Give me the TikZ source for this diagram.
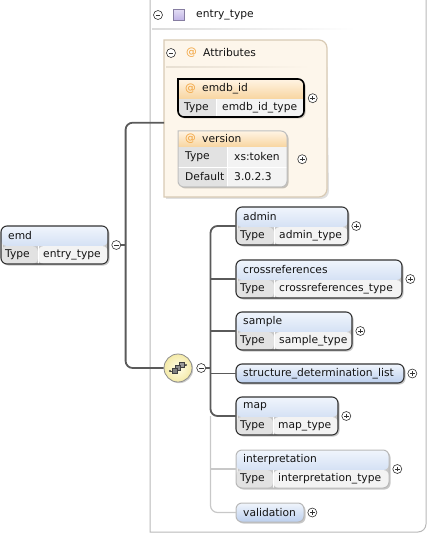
\documentclass[tikz,border=0pt]{standalone}
\usepackage{fontspec}
\setmainfont{DejaVu Sans}
\usetikzlibrary{positioning, calc, shadows}
\definecolor{LineDark}{HTML}{5A5A5A}
\definecolor{LineLight}{HTML}{C8C8C8}
\definecolor{FrameGray}{HTML}{B8B8B8}
\definecolor{HeadTop}{HTML}{F0F5FC}
\definecolor{HeadBot}{HTML}{BCCFEE}
\definecolor{AttrTop}{HTML}{FFF4E4}
\definecolor{AttrBot}{HTML}{F8D5A0}
\definecolor{CellType}{HTML}{E2E2E2}
\definecolor{CellVal}{HTML}{F3F3F3}
\definecolor{AttrFill}{HTML}{FDF6EB}
\definecolor{AttrEdge}{HTML}{D8CAB4}
\definecolor{AtOrange}{HTML}{F2A23A}
\definecolor{SeqIn}{HTML}{FFFDE8}
\definecolor{SeqOut}{HTML}{F4EAA8}
\definecolor{TypeLilac}{HTML}{BFB2E6}
\tikzset{
  % texts
  txt/.style={font=\fontsize{10.7}{12}\selectfont, inner sep=0pt, text=black!92, anchor=west},
  % element boxes
  elem base/.style={rectangle, rounded corners=6pt, inner sep=0pt, outer sep=0pt,
    drop shadow={shadow xshift=1.5pt, shadow yshift=-1.5pt, opacity=0.22, fill=black}},
  elem fill/.style={path picture={
    \shade[top color=HeadTop, bottom color=HeadBot] (path picture bounding box.north west) rectangle ($(path picture bounding box.north east)+(0,20)$);
    \fill[CellType] ($(path picture bounding box.north west)+(0,20)$) rectangle ($(path picture bounding box.south west)+(\colw,0)$);
    \fill[CellVal] ($(path picture bounding box.north west)+(\colw,20)$) rectangle (path picture bounding box.south east);
    \draw[white, line width=0.8pt] ($(path picture bounding box.north west)+(\colw,20)$) -- ($(path picture bounding box.south west)+(\colw,0)$);}},
  elem/.style={elem base, elem fill, draw=black!80, line width=1.1pt},
  elem opt/.style={elem base, elem fill, draw=black!28, line width=1pt},
  elem one/.style={elem base, draw=black!80, line width=1.1pt, top color=HeadTop, bottom color=HeadBot},
  elem one opt/.style={elem base, draw=black!28, line width=1pt, top color=HeadTop, bottom color=HeadBot},
  % connectors
  conn/.style={LineDark, line width=1.8pt, rounded corners=7pt},
  conn opt/.style={LineLight, line width=1.2pt, rounded corners=7pt},
  % expand / collapse marks
  pm/.style={circle, draw=black!80, fill=white, line width=0.6pt, minimum size=9pt, inner sep=0pt},
  pmminus/.style={pm, path picture={\draw[line width=0.7pt] ($(path picture bounding box.center)+(-2.3,0)$) -- ++(4.6,0);}},
  pmplus/.style={pm, path picture={\draw[line width=0.7pt] ($(path picture bounding box.center)+(-2.3,0)$) -- ++(4.6,0) ($(path picture bounding box.center)+(0,-2.3)$) -- ++(0,4.6);}},
  type square/.style={rectangle, draw=TypeLilac!70!black, top color=TypeLilac!45, bottom color=TypeLilac, minimum size=11pt, inner sep=0pt},
  seqc/.style={circle, minimum size=28pt, inner sep=0pt, draw=black!45, line width=0.8pt, inner color=SeqIn, outer color=SeqOut,
    drop shadow={shadow xshift=1.2pt, shadow yshift=-1.2pt, opacity=0.2, fill=black}}
}
% element box: name, x, y, width, type column, label, type
\newcommand{\elembox}[8][elem]{%
  \def\colw{#6}%
  \node[#1, minimum width=#5pt, minimum height=38pt, anchor=north west] (#2) at (#3,#4) {};
  \node[txt] (#2l) at ($(#2.north west)+(7,10)$) {#7};
  \node[txt] (#2t) at ($(#2.north west)+(4,29)$) {Type};
  \node[txt] (#2v) at ($(#2.north west)+(#6+5,29)$) {#8};
}
% element box with a single row: name, x, y, width, label
\newcommand{\elemone}[6][elem one]{%
  \node[#1, minimum width=#5pt, minimum height=19pt, anchor=north west] (#2) at (#3,#4) {};
  \node[txt] (#2l) at ($(#2.west)+(7,0)$) {#6};
}
% box with a square top left corner: x, y, width, height, radius
\newcommand{\sqbox}[6][]{%
  \path[#1] (#2,#3) -- ({#2+#4-#6},#3) arc[start angle=-90, end angle=0, radius=#6]
    -- ({#2+#4},{#3+#5-#6}) arc[start angle=0, end angle=90, radius=#6]
    -- ({#2+#6},{#3+#5}) arc[start angle=90, end angle=180, radius=#6] -- cycle;
}

\begin{document}
\begin{tikzpicture}[x=1pt, y=-1pt]
  \useasboundingbox (0,0) rectangle (429,534);

  % entry_type frame
  \draw[FrameGray, line width=1pt] (150,-2) -- (150,532) -- (418,532) arc[start angle=90, end angle=0, radius=8] -- (426,-2);
  \node[pmminus] (typem) at (158,15) {};
  \node[type square] (typesq) at (179,15) {};
  \node[txt] (typel) at (196,15) {entry\_type};
  \shade[left color=black!14, right color=white] (152,28.5) rectangle (355,30);

  % Attributes group
  \fill[black, opacity=0.12] (166,42) -- (319,42) arc[start angle=-90, end angle=0, radius=8] -- (329,191) arc[start angle=0, end angle=90, radius=8] -- (166,199) -- cycle;
  \draw[AttrEdge, fill=AttrFill, line width=1.2pt] (164,40) -- (319,40) arc[start angle=-90, end angle=0, radius=8] -- (327,189) arc[start angle=0, end angle=90, radius=8] -- (164,197) -- cycle;
  \node[inner sep=0pt, minimum width=163pt, minimum height=157pt, anchor=north west] (attrs) at (164,40) {};
  \node[pmminus] (attrm) at (171,53) {};
  \node[txt, text=AtOrange] (attrat) at (186,53) {@};
  \node[txt] (attrl) at (203,53) {Attributes};
  \shade[left color=AttrEdge!60, right color=AttrFill] (166,66.5) rectangle (310,68);

  % emdb_id
  \sqbox[fill=black, opacity=0.22, xshift=1.5pt, yshift=-1.5pt]{178}{79}{126}{38}{6}
  \begin{scope}
    \sqbox[clip]{178}{79}{126}{38}{6}
    \shade[top color=AttrTop, bottom color=AttrBot] (178,79) rectangle (304,99);
    \fill[CellType] (178,99) rectangle (216,117);
    \fill[CellVal] (216,99) rectangle (304,117);
    \draw[white, line width=0.8pt] (216,99) -- (216,117);
  \end{scope}
  \sqbox[draw=black, line width=1.6pt]{178}{79}{126}{38}{6}
  \node[inner sep=0pt, minimum width=126pt, minimum height=38pt, anchor=north west] (emdbid) at (178,79) {};
  \node[txt, text=AtOrange] (emdbidat) at (185,89) {@};
  \node[txt] (emdbidl) at (202,89) {emdb\_id};
  \node[txt] (emdbidt) at (184,108) {Type};
  \node[txt] (emdbidv) at (222,108) {emdb\_id\_type};
  \node[pmplus, right=3.5pt of emdbid] (emdbidp) {};

  % version
  \sqbox[fill=black, opacity=0.22, xshift=1.5pt, yshift=-1.5pt]{178}{131}{109}{56}{6}
  \begin{scope}
    \sqbox[clip]{178}{131}{109}{56}{6}
    \shade[top color=AttrTop, bottom color=AttrBot] (178,131) rectangle (287,147);
    \fill[CellType] (178,147) rectangle (227,187);
    \fill[CellVal] (227,147) rectangle (287,187);
    \draw[white, line width=0.8pt] (227,147) -- (227,187) (178,167) -- (287,167);
  \end{scope}
  \sqbox[draw=black!25, line width=1pt]{178}{131}{109}{56}{6}
  \node[inner sep=0pt, minimum width=109pt, minimum height=56pt, anchor=north west] (version) at (178,131) {};
  \node[txt, text=AtOrange] (versionat) at (185,139) {@};
  \node[txt] (versionl) at (202,139) {version};
  \node[txt] (versiont) at (185,157) {Type};
  \node[txt] (versionv) at (234,157) {xs:token};
  \node[txt] (versiondt) at (185,177) {Default};
  \node[txt] (versiondv) at (234,177) {3.0.2.3};
  \node[pmplus, right=10pt of version] (versionp) {};

  % root element
  \elembox{emd}{1}{226}{107}{37}{emd}{entry\_type}
  \node[pmminus, right=3.5pt of emd] (emdm) {};

  % sequence
  \node[seqc] (seq) at (178,368) {};
  \begin{scope}[shift={(seq.center)}]
    \draw[black!70, line width=0.7pt] (-8,3) -- (-4,3) (4,-3) -- (8,-3);
    \fill[black!75] (-8,3) circle (1.2) (8,-3) circle (1.2);
    \draw[fill=black!40, draw=black!75, line width=0.5pt] (1,-5.5) rectangle ++(5,5);
    \draw[fill=black!45, draw=black!75, line width=0.5pt] (-2.5,-2.5) rectangle ++(5,5);
    \draw[fill=black!50, draw=black!75, line width=0.5pt] (-6,0.5) rectangle ++(5,5);
  \end{scope}
  \node[pmminus, right=4pt of seq] (seqm) {};

  % children
  \elembox{admin}{236}{207}{112}{38}{admin}{admin\_type}
  \elembox{crossreferences}{236}{260}{166}{38}{crossreferences}{crossreferences\_type}
  \elembox{sample}{236}{312}{116}{38}{sample}{sample\_type}
  \elemone{sdl}{236}{364}{168}{structure\_determination\_list}
  \elembox{map}{236}{397}{102}{37}{map}{map\_type}
  \elembox[elem opt]{interpretation}{236}{450}{153}{37}{interpretation}{interpretation\_type}
  \elemone[elem one opt]{validation}{236}{503}{68}{validation}
  \foreach \n in {admin, crossreferences, sample, sdl, map, interpretation, validation}
    \node[pmplus, right=3.5pt of \n] (\n p) {};

  % connectors
  \coordinate (emdj) at ($(emdm.east)+(4.5,0)$);
  \draw[conn] (emdm.east) -- (emdj);
  \draw[conn] ([yshift=-4pt]attrs.west) -| (emdj) |- (seq.west);
  \coordinate (seqj) at ($(seqm.east)+(4.5,0)$);
  \draw[conn] (seqm.east) -- (seqj);
  \draw[conn] (admin.west) -| (seqj) |- (map.west);
  \draw[conn] (crossreferences.west -| seqj) -- (crossreferences.west);
  \draw[conn] (sample.west -| seqj) -- (sample.west);
  \draw[conn] (sdl.west -| seqj) -- (sdl.west);
  \draw[conn opt] (map.west -| seqj) |- (validation.west);
  \draw[conn opt] (interpretation.west -| seqj) -- (interpretation.west);
\end{tikzpicture}
\end{document}
